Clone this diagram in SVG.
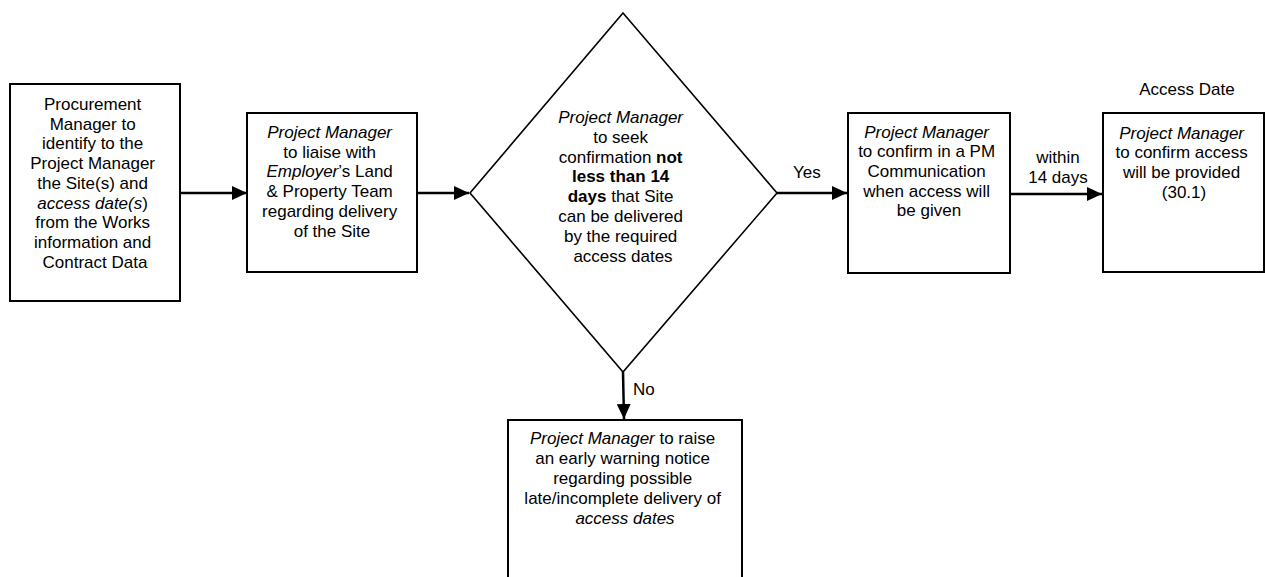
<svg xmlns="http://www.w3.org/2000/svg" width="1265" height="577" viewBox="0 0 1265 577">
<style>
  .box { fill: #ffffff; stroke: #000000; stroke-width: 2; }
  .dia { fill: #ffffff; stroke: #000000; stroke-width: 1.6; }
  .t { font-family: "Liberation Sans", Arial, sans-serif; font-size: 17px; fill: #000000; text-anchor: middle; }
  .lbl { font-family: "Liberation Sans", Arial, sans-serif; font-size: 17px; fill: #000000; }
  .i { font-style: italic; }
  .b { font-weight: bold; }
  .conn { stroke: #000000; stroke-width: 2.5; fill: none; }
</style>
<defs>
  <marker id="arr" markerUnits="userSpaceOnUse" markerWidth="16" markerHeight="14" refX="15" refY="7" orient="auto">
    <path d="M0,0 L15,7 L0,14 z" fill="#000000"/>
  </marker>
</defs>

<g id="connectors">
  <line class="conn" x1="181" y1="193" x2="247" y2="193" marker-end="url(#arr)"/>
  <line class="conn" x1="418" y1="193" x2="469" y2="193" marker-end="url(#arr)"/>
  <line class="conn" x1="777" y1="193" x2="847" y2="193" marker-end="url(#arr)"/>
  <line class="conn" x1="1011" y1="194" x2="1102" y2="194" marker-end="url(#arr)"/>
  <line class="conn" x1="623" y1="372" x2="624" y2="419" marker-end="url(#arr)"/>
  <text class="lbl" x="793" y="178">Yes</text>
  <text class="lbl" x="633" y="395">No</text>
  <text class="t" x="1058" y="163">within</text>
  <text class="t" x="1058" y="183">14 days</text>
</g>

<g id="node-procurement">
  <rect class="box" x="10" y="84" width="170" height="217"/>
  <text class="t">
    <tspan x="95" y="110">Procurement</tspan>
    <tspan x="95" y="129.7">Manager to</tspan>
    <tspan x="95" y="149.4">identify to the</tspan>
    <tspan x="95" y="169.1">Project Manager</tspan>
    <tspan x="95" y="188.8">the Site(s) and</tspan>
    <tspan x="95" y="208.5"><tspan class="i">access date(s</tspan>)</tspan>
    <tspan x="95" y="228.2">from the Works</tspan>
    <tspan x="95" y="247.9">information and</tspan>
    <tspan x="95" y="267.6">Contract Data</tspan>
  </text>
</g>

<g id="node-liaise">
  <rect class="box" x="247" y="113" width="170" height="159"/>
  <text class="t">
    <tspan x="332" y="138" class="i">Project Manager</tspan>
    <tspan x="332" y="157.7">to liaise with</tspan>
    <tspan x="332" y="177.4"><tspan class="i">Employer</tspan>’s Land</tspan>
    <tspan x="332" y="197.1">&amp; Property Team</tspan>
    <tspan x="332" y="216.8">regarding delivery</tspan>
    <tspan x="332" y="236.5">of the Site</tspan>
  </text>
</g>

<g id="node-decision">
  <polygon class="dia" points="623,13 777,193 623,372 470,193"/>
  <text class="t">
    <tspan x="623" y="123" class="i">Project Manager</tspan>
    <tspan x="623" y="142.8">to seek</tspan>
    <tspan x="623" y="162.6">confirmation <tspan class="b">not</tspan></tspan>
    <tspan x="623" y="182.4" class="b">less than 14</tspan>
    <tspan x="623" y="202.2"><tspan class="b">days</tspan> that Site</tspan>
    <tspan x="623" y="222">can be delivered</tspan>
    <tspan x="623" y="241.8">by the required</tspan>
    <tspan x="623" y="261.6">access dates</tspan>
  </text>
</g>

<g id="node-confirm-pm">
  <rect class="box" x="848" y="113" width="162" height="160"/>
  <text class="t">
    <tspan x="929" y="137.5" class="i">Project Manager</tspan>
    <tspan x="929" y="157.2">to confirm in a PM</tspan>
    <tspan x="929" y="176.9">Communication</tspan>
    <tspan x="929" y="196.6">when access will</tspan>
    <tspan x="929" y="216.3">be given</tspan>
  </text>
</g>

<g id="node-access-date">
  <text class="t" x="1187" y="95">Access Date</text>
  <rect class="box" x="1103" y="113" width="161" height="159"/>
  <text class="t">
    <tspan x="1184" y="138.5" class="i">Project Manager</tspan>
    <tspan x="1184" y="158.2">to confirm access</tspan>
    <tspan x="1184" y="177.9">will be provided</tspan>
    <tspan x="1184" y="197.6">(30.1)</tspan>
  </text>
</g>

<g id="node-early-warning">
  <rect class="box" x="508" y="420" width="234" height="170"/>
  <text class="t">
    <tspan x="625" y="444"><tspan class="i">Project Manager</tspan> to raise</tspan>
    <tspan x="625" y="464">an early warning notice</tspan>
    <tspan x="625" y="484">regarding possible</tspan>
    <tspan x="625" y="504">late/incomplete delivery of</tspan>
    <tspan x="625" y="524" class="i">access dates</tspan>
  </text>
</g>
</svg>
